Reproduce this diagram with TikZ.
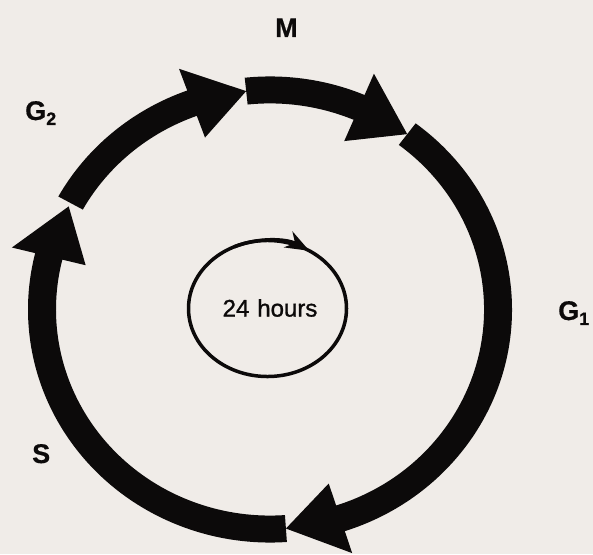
\documentclass[tikz,border=0pt]{standalone}
\usepackage{fontspec}
\setmainfont{Liberation Sans}
\usetikzlibrary{arrows.meta}
\definecolor{paper}{RGB}{240,236,232}
\definecolor{ink}{RGB}{12,10,10}
\newcommand\phasename[2]{#1\raisebox{-0.35ex}{\fontsize{18}{18}\selectfont #2}}
\begin{document}
\begin{tikzpicture}[x=1pt, y=1pt, >=Stealth,
  phase/.style={font=\fontsize{27}{27}\selectfont\bfseries\addfontfeature{FakeBold=0.6}, anchor=base west, inner sep=0pt, text=ink}]
\fill[paper] (0,0) rectangle (593,554);
\clip (0,0) rectangle (593,554);
% the four phases of the ring: start / back of head / tip
\begin{scope}[shift={(270,244.5)}, yscale=0.963]
\foreach \a/\b/\e in {96/67/53, 53/-72/-86, 274/166/152, 151/110/96}
  \fill[ink] (\a:242) arc[start angle=\a, end angle=\b, radius=242] -- (\b:266) -- (\e:228)
    -- (\b:190) -- (\b:214) arc[start angle=\b, end angle=\a, radius=214] -- cycle;
\end{scope}
% inner clock
\begin{scope}[shift={(267.5,245.5)}, yscale=0.861]
\draw[ink, line width=3.5](0,0) circle[radius=79];
\draw[ink, line width=3.5, -{Stealth[length=24, width=18]}](115:79) arc[start angle=115, end angle=58, radius=79];
\end{scope}
\node[text=ink, font=\fontsize{24}{24}\selectfont\addfontfeature{FakeBold=1.2}, inner sep=0pt] (clock) at (270,246) {24\,\,hours};
\node[phase] (M) at (275,517) {M};
\node[phase] (G2) at (25,434) {\phasename{G}{2}};
\node[phase] (S) at (32,91) {S};
\node[phase] (G1) at (558,234) {\phasename{G}{1}};
\end{tikzpicture}
\end{document}
